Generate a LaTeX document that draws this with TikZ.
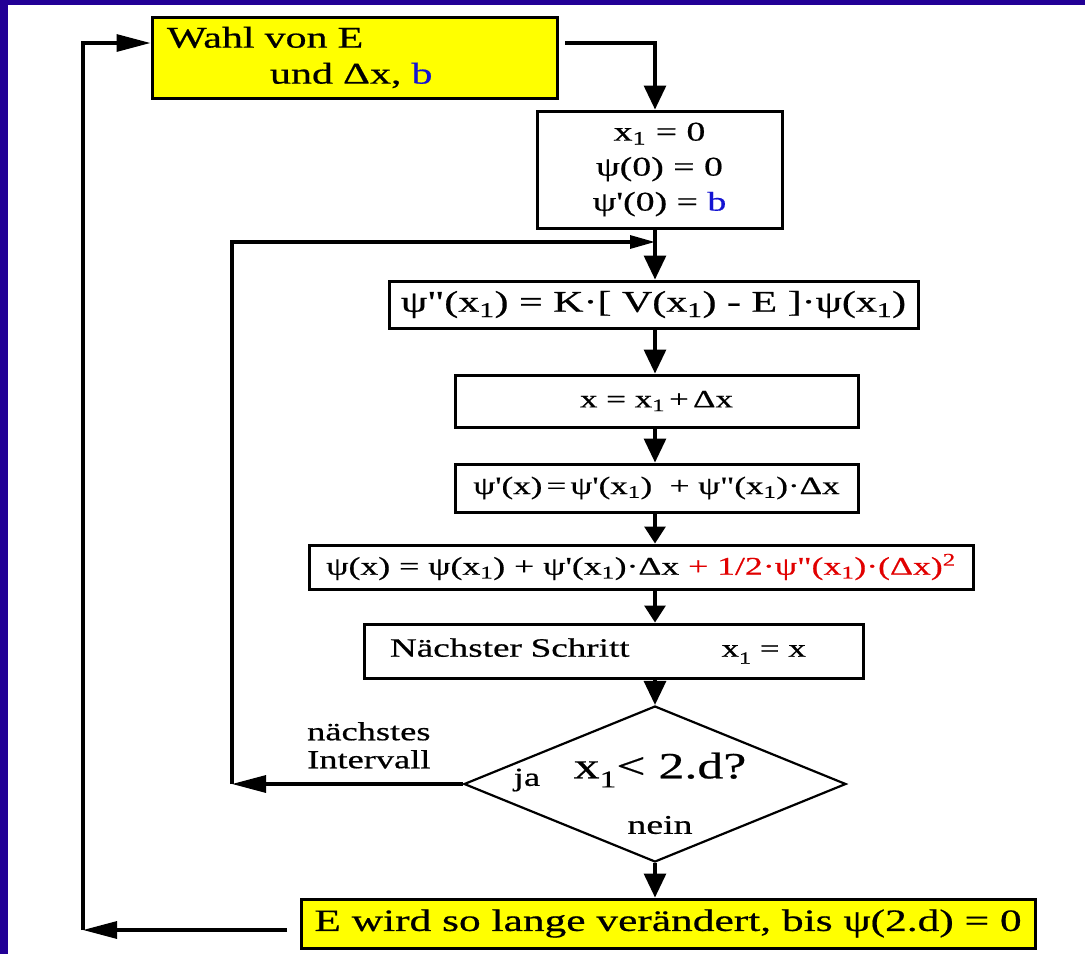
\documentclass[tikz,border=0pt]{standalone}
\usepackage{fontspec}
\usepackage{xcolor}
\usetikzlibrary{shapes.geometric,arrows.meta}

\newfontfamily\flowfont{Liberation Serif}[FakeStretch=1.4, FakeBold=0.6]
\newcommand{\fsz}[2]{\fontsize{#1}{#2}\selectfont}

\definecolor{rahmen}{RGB}{34,0,150}
\definecolor{gelb}{RGB}{255,255,0}
\definecolor{blau}{RGB}{20,20,210}
\definecolor{rot}{RGB}{225,0,0}

\tikzset{
    kasten/.style={draw, line width=3pt, inner sep=0pt, align=center},
    raute/.style={draw, diamond, line width=2.2pt, inner sep=0pt},
    txt/.style={inner sep=0pt},
    pfeil/.style={line width=3.2pt, -{Triangle[length=24pt,width=22pt]}},
    kpfeil/.style={line width=3.2pt, -{Triangle[length=17pt,width=21pt]}},
    hpfeil/.style={line width=3.2pt, -{Triangle[length=34pt,width=17pt]}},
    jpfeil/.style={line width=3.2pt, -{Triangle[length=25pt,width=13pt]}}
}

\begin{document}
\begin{tikzpicture}[x=1pt, y=-1pt, every node/.style={font=\flowfont}]
    \useasboundingbox (0,0) rectangle (1085,954);
    % Rand
    \fill[rahmen] (0,0) rectangle (8,954);
    \fill[rahmen] (0,0) rectangle (1085,5);

    % Kaesten
    \node[kasten, fill=gelb, align=left, text width=375pt, inner xsep=15pt, minimum height=81pt, font=\flowfont\fsz{30}{36}] (wahl) at (354.5,57.5) {Wahl von E\\\hspace*{103pt}und Δx, \textcolor{blau}{b}};
    \node[kasten, minimum width=245pt, minimum height=117pt, font=\flowfont\fsz{27}{35}] (start) at (659.5,169.5) {x\textsubscript{1} = 0\\ψ(0) = 0\\ψ'(0) = \textcolor{blau}{b}};
    \node[kasten, minimum width=529pt, minimum height=47pt, font=\flowfont\fsz{30}{32}] (schr) at (653.5,304.5) {ψ"(x\textsubscript{1}) = K·[ V(x\textsubscript{1}) - E ]·ψ(x\textsubscript{1})};
    \node[kasten, minimum width=403pt, minimum height=52pt, font=\flowfont\fsz{25}{30}] (xneu) at (656.5,401) {x = x\textsubscript{1}\,+\,Δx};
    \node[kasten, minimum width=403pt, minimum height=48pt, font=\flowfont\fsz{25}{30}] (abl) at (656.5,488) {ψ'(x)\,=\,ψ'(x\textsubscript{1})\ \ +\ ψ"(x\textsubscript{1})·Δx};
    \node[kasten, minimum width=664pt, minimum height=44pt, font=\flowfont\fsz{25.5}{28}] (psi) at (641,567) {ψ(x) = ψ(x\textsubscript{1}) + ψ'(x\textsubscript{1})·Δx \textcolor{rot}{+ 1/2·ψ"(x\textsubscript{1})·(Δx)\textsuperscript{2}}};
    \node[kasten, align=left, text width=473pt, inner xsep=13pt, minimum height=54pt, font=\flowfont\fsz{26.5}{30}] (next) at (613.5,651) {\hspace*{13pt}Nächster Schritt\hspace*{92pt}{\fsz{25}{28}x\raisebox{-7pt}{\fsz{17}{18}1} = x}};
    \node[raute, minimum width=382pt, minimum height=156pt] (frage) at (655,784) {};
    \node[kasten, fill=gelb, minimum width=734pt, minimum height=49pt, font=\flowfont\fsz{31}{34}] (ende) at (668,923.5) {E wird so lange verändert, bis ψ(2.d) = 0};

    % Texte an der Raute
    \node[txt, font=\flowfont\fsz{37}{40}] (bed) at (660,770) {x\raisebox{-9pt}{\fsz{24}{26}1}< 2.d?};
    \node[txt, font=\flowfont\fsz{26}{30}] (ja) at (527,780) {ja};
    \node[txt, font=\flowfont\fsz{27}{30}] (nein) at (660,825) {nein};
    \node[txt, align=left, anchor=north west, font=\flowfont\fsz{26}{28}] (iv) at (307,722) {nächstes\\Intervall};

    % Hilfspunkte
    \coordinate (ax) at (655,0);
    \coordinate (w1) at (565,43);
    \coordinate (li) at (232,784);
    \coordinate (jn) at (655,242);
    \coordinate (e1) at (287,930);
    \coordinate (lo) at (83,930);

    % Verbindungen
    \draw[pfeil] (w1) -| (start.north -| ax);
    \draw[pfeil] (start.south -| ax) -- (schr.north -| ax);
    \draw[pfeil] (schr.south -| ax) -- (xneu.north -| ax);
    \draw[pfeil] (xneu.south -| ax) -- (abl.north -| ax);
    \draw[kpfeil] (abl.south -| ax) -- (psi.north -| ax);
    \draw[kpfeil] (psi.south -| ax) -- (next.north -| ax);
    \draw[pfeil] (next.south -| ax) -- (frage.north);
    \draw[pfeil] (frage.south) -- (ende.north -| ax);

    % Schleifen
    \draw[hpfeil] (frage.west) -- (li);
    \draw[jpfeil] (li) |- (jn);
    \draw[hpfeil] (e1) -- (lo);
    \draw[hpfeil] (lo) |- (wahl.west |- w1);
\end{tikzpicture}
\end{document}
